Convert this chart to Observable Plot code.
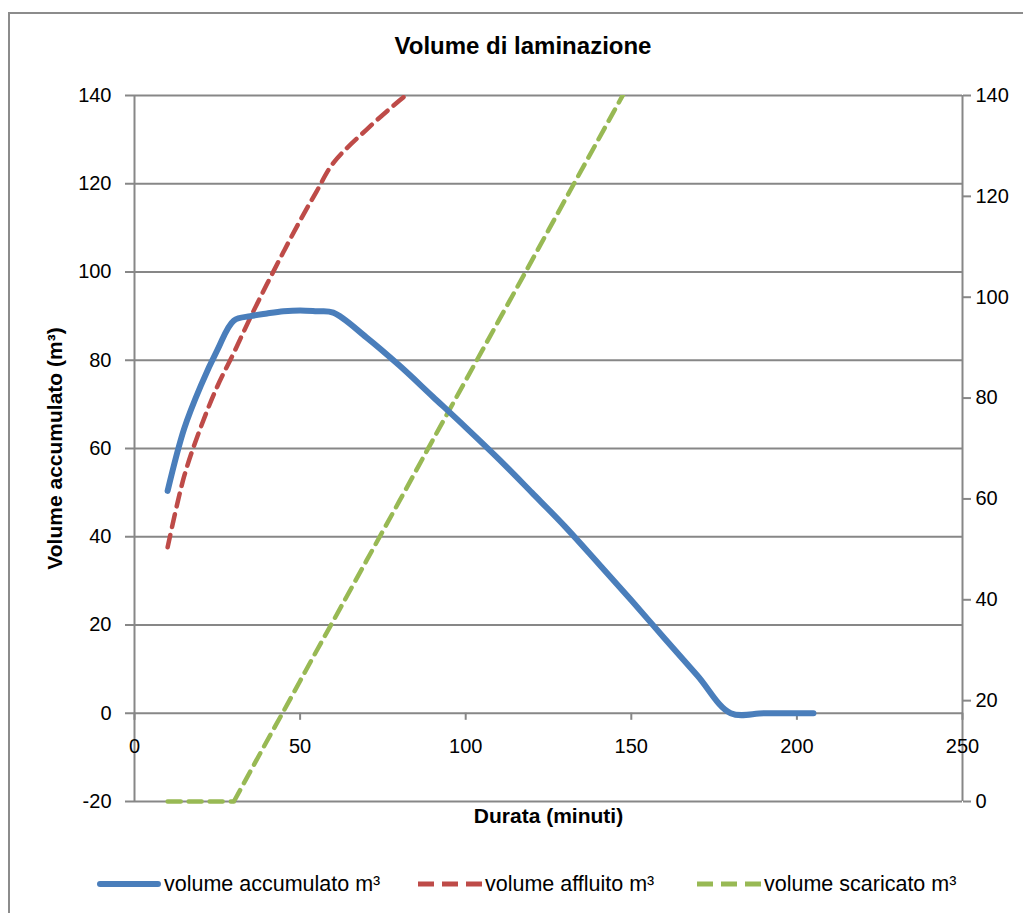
<!DOCTYPE html>
<html>
<head>
<meta charset="utf-8">
<script src="https://cdn.jsdelivr.net/npm/d3@7"></script>
<script src="https://cdn.jsdelivr.net/npm/@observablehq/plot@0.6"></script>
<style>
  html, body { margin: 0; padding: 0; background: #fff; }
  body { width: 1023px; height: 913px; overflow: hidden; position: relative; font-family: "Liberation Sans", Arial, sans-serif; }
  #frame { position: absolute; left: 8px; top: 12px; width: 1100px; height: 1000px; border: 2px solid #8c8c8c; box-sizing: border-box; }
  #title { position: absolute; left: 0; width: 1046px; top: 32px; text-align: center; font-size: 24px; font-weight: bold; color: #000; }
  #chart { position: absolute; left: 0; top: 70px; }
  .leg { position: absolute; top: 870px; height: 28px; display: flex; align-items: center; font-size: 21.5px; color: #000; white-space: nowrap; }
  .leg svg { margin-right: 3px; }
</style>
</head>
<body>
<div id="frame"></div>
<div id="title">Volume di laminazione</div>
<div id="chart"></div>
<div id="legend"></div>
<script>
// ---- data ----
const durataAccumulato = [10,15,20,25,30,35,40,45,50,55,60,70,80,90,100,110,120,130,140,150,160,170,180,190,200,205];
const volumeAccumulato = [50.4,64.5,74.2,82.3,89.0,90.0,90.6,91.1,91.3,91.1,90.8,85.2,78.8,71.8,64.8,57.6,50.0,42.3,34.0,25.6,17.0,8.5,0,0,0,0];

const durataAffluito = [10,15,20,25,30,35,40,45,50,55,60,70,80,90,100];
const volumeAffluito = [50.4,64.5,74.2,82.3,89.0,96.0,102.6,109.0,115.2,121.0,126.6,133.2,139.0,144.2,149.0];

const durataScaricato = [10,15,20,25,30,35,40,45,50,55,60,70,80,90,100,110,120,130,140,150,160];
const volumeScaricato = [0,0,0,0,0,6.0,12.0,17.9,23.9,29.9,35.8,47.7,59.6,71.6,83.5,95.4,107.3,119.3,131.2,143.1,155.0];

const xTicks = [0,50,100,150,200,250];
const leftTicks = [-20,0,20,40,60,80,100,120,140];
const rightTicks = [0,20,40,60,80,100,120,140];

const seriesNames = ["volume accumulato m³", "volume affluito m³", "volume scaricato m³"];
const colors = ["#4a7ebb", "#be4b48", "#98b954"];

// secondary axis (0..140) shares the pixel span of the primary axis (-20..140)
const toLeft = r => r * 160 / 140 - 20;
const toRight = l => (l + 20) * 140 / 160;

const accumulato = durataAccumulato.map((x, i) => ({x, y: volumeAccumulato[i]}));
const affluito = durataAffluito.map((x, i) => ({x, y: volumeAffluito[i]}));
const scaricato = durataScaricato.map((x, i) => ({x, y: volumeScaricato[i]}));

const gridColor = "#878787";
const font = "Liberation Sans, Arial, sans-serif";

const chart = Plot.plot({
  width: 1023,
  height: 770,
  marginLeft: 134,
  marginRight: 61,
  marginTop: 25,
  marginBottom: 39,
  style: {fontFamily: font, fontSize: "20px", color: "#000", background: "transparent"},
  x: {domain: [0, 250], axis: null},
  y: {domain: [-20, 140], axis: null},
  marks: [
    Plot.ruleY(leftTicks, {stroke: gridColor, strokeWidth: 2}),
    Plot.ruleX([0, 250], {stroke: gridColor, strokeWidth: 2}),
    // x axis ticks on the y=0 line
    Plot.ruleX(xTicks, {x: d => d, y1: 0, y2: -1.6, stroke: gridColor, strokeWidth: 2}),
    Plot.text(xTicks, {x: d => d, y: 0, dy: 33, text: d => String(d), fontSize: 20, fill: "#000"}),
    Plot.axisY({ticks: leftTicks, tickSize: 9, tickPadding: 14, stroke: gridColor, strokeWidth: 2, fontSize: 20, label: null, tickFormat: d => String(d)}),
    Plot.axisY(rightTicks.map(toLeft), {anchor: "right", tickSize: 8, tickPadding: 5, stroke: gridColor, strokeWidth: 2, fontSize: 20, label: null, tickFormat: d => String(Math.round(toRight(d)))}),
    Plot.text(["Volume accumulato (m³)"], {frameAnchor: "left", rotate: -90, dx: -79, textAnchor: "middle", fontWeight: "bold", fontSize: 21, fill: "#000"}),
    Plot.text(["Durata (minuti)"], {frameAnchor: "bottom", dy: 21, fontWeight: "bold", fontSize: 21, fill: "#000"}),
    // series
    Plot.line(scaricato.filter(d => d.x <= 30), {x: "x", y: d => toLeft(d.y), stroke: colors[2], strokeWidth: 4.5, strokeDasharray: "13,8", curve: "catmull-rom"}),
    Plot.line(scaricato.filter(d => d.x >= 30), {x: "x", y: d => toLeft(d.y), stroke: colors[2], strokeWidth: 4.5, strokeDasharray: "13,8", curve: "catmull-rom", clip: true}),
    Plot.line(affluito, {x: "x", y: d => toLeft(d.y), stroke: colors[1], strokeWidth: 4.5, strokeDasharray: "13,8", curve: "catmull-rom", clip: true}),
    Plot.line(accumulato, {x: "x", y: "y", stroke: colors[0], strokeWidth: 6, curve: "catmull-rom", strokeLinecap: "round", strokeLinejoin: "round"})
  ]
});
document.getElementById("chart").appendChild(chart);

// legend
const legend = document.getElementById("legend");
const legLeft = [97, 418, 697];
const legSample = [64, 64, 64];
seriesNames.forEach((name, i) => {
  const item = document.createElement("div");
  item.className = "leg";
  item.style.left = legLeft[i] + "px";
  const w = legSample[i];
  const dash = i === 0 ? "" : `stroke-dasharray="16,8"`;
  const sw = i === 0 ? 6 : 5;
  const cap = i === 0 ? "round" : "butt";
  item.innerHTML = `<svg width="${w}" height="12"><line x1="${i===0?3:0}" x2="${i===0?w-3:w}" y1="6" y2="6" stroke="${colors[i]}" stroke-width="${sw}" stroke-linecap="${cap}" ${dash}/></svg><span>${name}</span>`;
  legend.appendChild(item);
});
</script>
</body>
</html>
